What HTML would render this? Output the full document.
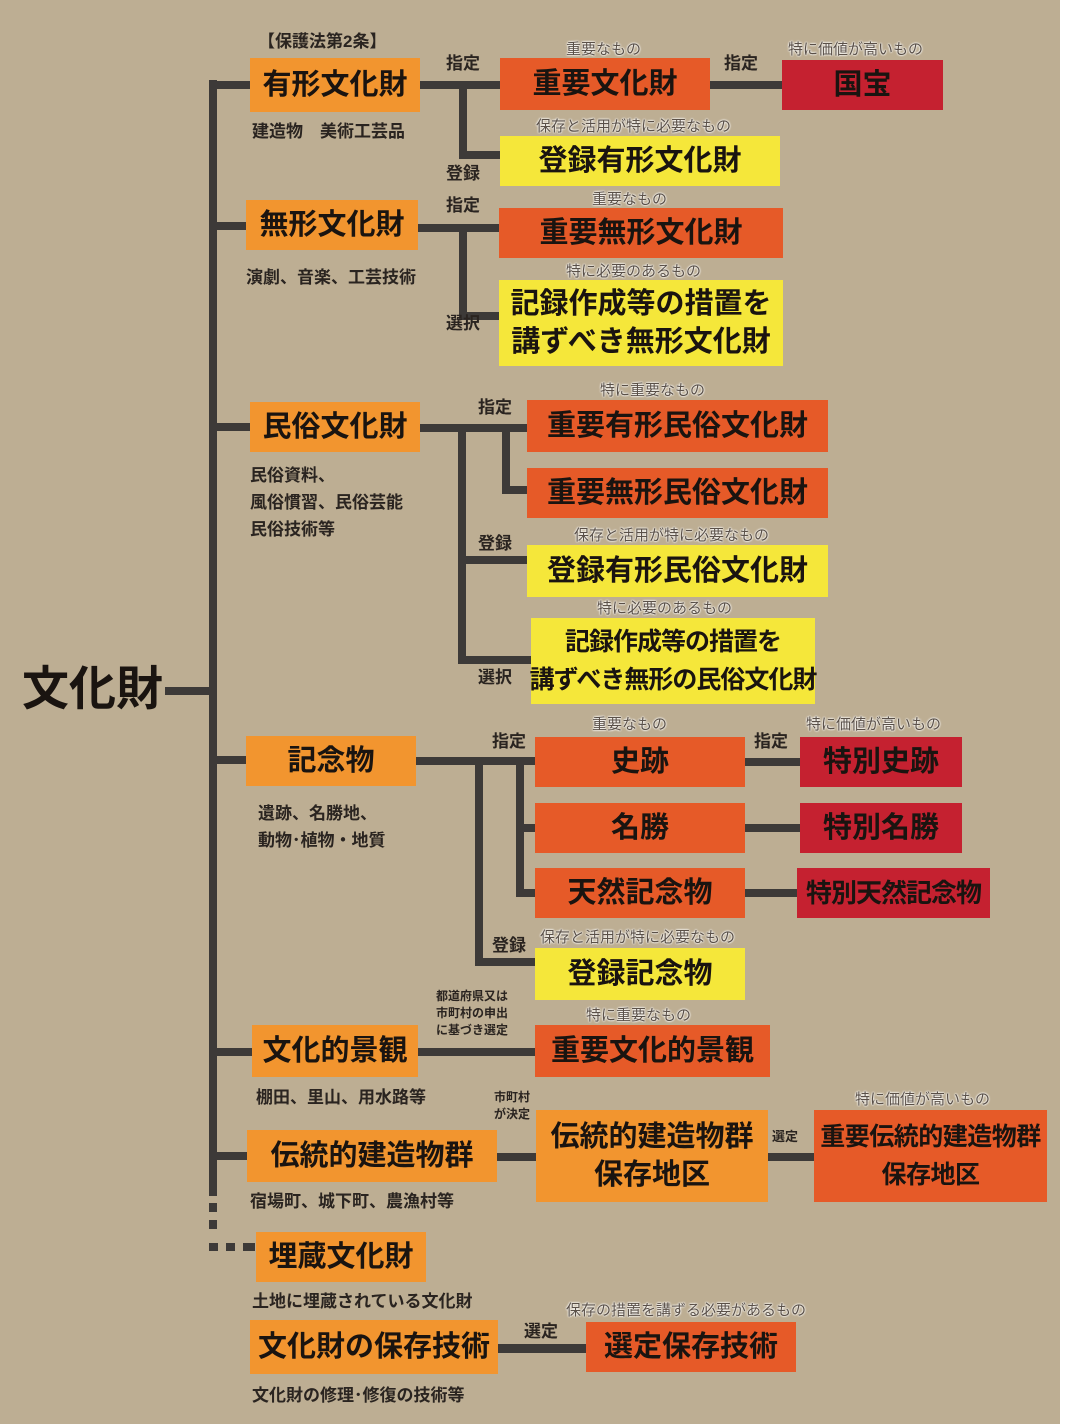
<!DOCTYPE html>
<html><head><meta charset="utf-8"><style>
body{margin:0;width:1066px;height:1424px;background:#fff;overflow:hidden}
#c{position:absolute;left:0;top:0;width:1060px;height:1424px;background:#bdae93;font-family:"Liberation Sans","Noto Sans CJK JP",sans-serif}
.b{position:absolute;display:flex;align-items:center;justify-content:center;text-align:center;font-weight:bold;color:#1a1410;font-size:29px;line-height:38px;white-space:nowrap}
.o{background:#f2952f}.r{background:#e65a28}.d{background:#c52130}.y{background:#f5e73a}
.l{position:absolute;background:#3d3a38}
.t{position:absolute;font-weight:bold;color:#2a2420;font-size:17px;white-space:nowrap;line-height:20px}
.a{position:absolute;color:#5a5048;font-size:15px;white-space:nowrap;text-shadow:0 0 2px #fff,0 0 2px #fff,0 0 1px #fff}
</style></head><body><div id="c">
<div class="t" style="left:22px;top:660px;font-size:47px;line-height:58px;color:#1a1410">文化財</div>
<div class="l" style="left:165px;top:687px;width:48px;height:8px"></div>
<div class="l" style="left:209px;top:80px;width:8px;height:1116px"></div>
<div class="l" style="left:209px;top:1203px;width:8px;height:9px"></div>
<div class="l" style="left:209px;top:1220px;width:8px;height:9px"></div>
<div class="l" style="left:209px;top:1243px;width:9px;height:8px"></div>
<div class="l" style="left:226px;top:1243px;width:9px;height:8px"></div>
<div class="l" style="left:243px;top:1243px;width:12px;height:8px"></div>
<div class="l" style="left:209px;top:81px;width:42px;height:8px"></div>
<div class="l" style="left:209px;top:222px;width:38px;height:8px"></div>
<div class="l" style="left:209px;top:423px;width:42px;height:8px"></div>
<div class="l" style="left:209px;top:756px;width:38px;height:8px"></div>
<div class="l" style="left:209px;top:1048px;width:44px;height:8px"></div>
<div class="l" style="left:209px;top:1152px;width:40px;height:8px"></div>

<div class="t" style="left:258px;top:32px">【保護法第2条】</div>
<div class="b o" style="left:250px;top:58px;width:170px;height:54px">有形文化財</div>
<div class="t" style="left:252px;top:122px">建造物　美術工芸品</div>
<div class="l" style="left:420px;top:81px;width:80px;height:8px"></div>
<div class="l" style="left:459px;top:81px;width:8px;height:78px"></div>
<div class="l" style="left:459px;top:151px;width:41px;height:8px"></div>
<div class="t" style="left:446px;top:54px">指定</div>
<div class="t" style="left:446px;top:164px">登録</div>
<div class="a" style="left:566px;top:38px">重要なもの</div>
<div class="b r" style="left:500px;top:58px;width:210px;height:52px">重要文化財</div>
<div class="l" style="left:710px;top:81px;width:72px;height:8px"></div>
<div class="t" style="left:724px;top:54px">指定</div>
<div class="a" style="left:788px;top:38px">特に価値が高いもの</div>
<div class="b d" style="left:782px;top:60px;width:161px;height:50px">国宝</div>
<div class="a" style="left:536px;top:115px">保存と活用が特に必要なもの</div>
<div class="b y" style="left:500px;top:136px;width:280px;height:50px">登録有形文化財</div>
<div class="b o" style="left:246px;top:200px;width:172px;height:50px">無形文化財</div>
<div class="t" style="left:246px;top:268px">演劇、音楽、工芸技術</div>
<div class="l" style="left:418px;top:224px;width:81px;height:8px"></div>
<div class="l" style="left:459px;top:224px;width:8px;height:96px"></div>
<div class="l" style="left:459px;top:312px;width:40px;height:8px"></div>
<div class="t" style="left:446px;top:196px">指定</div>
<div class="t" style="left:446px;top:314px">選択</div>
<div class="a" style="left:592px;top:188px">重要なもの</div>
<div class="b r" style="left:499px;top:208px;width:284px;height:50px">重要無形文化財</div>
<div class="a" style="left:566px;top:260px">特に必要のあるもの</div>
<div class="b y" style="left:499px;top:280px;width:284px;height:86px">記録作成等の措置を<br>講ずべき無形文化財</div>
<div class="b o" style="left:250px;top:402px;width:170px;height:50px">民俗文化財</div>
<div class="t" style="left:250px;top:462px;line-height:27px">民俗資料、<br>風俗慣習、民俗芸能<br>民俗技術等</div>
<div class="l" style="left:420px;top:424px;width:107px;height:8px"></div>
<div class="l" style="left:458px;top:424px;width:8px;height:240px"></div>
<div class="l" style="left:502px;top:424px;width:8px;height:70px"></div>
<div class="l" style="left:502px;top:486px;width:25px;height:8px"></div>
<div class="l" style="left:458px;top:556px;width:69px;height:8px"></div>
<div class="l" style="left:458px;top:656px;width:73px;height:8px"></div>
<div class="t" style="left:478px;top:398px">指定</div>
<div class="t" style="left:478px;top:534px">登録</div>
<div class="t" style="left:478px;top:668px">選択</div>
<div class="a" style="left:600px;top:379px">特に重要なもの</div>
<div class="b r" style="left:527px;top:400px;width:301px;height:52px">重要有形民俗文化財</div>
<div class="b r" style="left:527px;top:468px;width:301px;height:50px">重要無形民俗文化財</div>
<div class="a" style="left:574px;top:524px">保存と活用が特に必要なもの</div>
<div class="b y" style="left:527px;top:545px;width:301px;height:52px">登録有形民俗文化財</div>
<div class="a" style="left:597px;top:597px">特に必要のあるもの</div>
<div class="b y" style="left:531px;top:618px;width:284px;height:86px;font-size:25px;letter-spacing:-1px">記録作成等の措置を<br>講ずべき無形の民俗文化財</div>
<div class="b o" style="left:246px;top:736px;width:170px;height:50px">記念物</div>
<div class="t" style="left:258px;top:800px;line-height:27px">遺跡、名勝地、<br>動物･植物・地質</div>
<div class="l" style="left:416px;top:757px;width:119px;height:8px"></div>
<div class="l" style="left:475px;top:757px;width:8px;height:209px"></div>
<div class="l" style="left:516px;top:757px;width:8px;height:140px"></div>
<div class="l" style="left:516px;top:824px;width:19px;height:8px"></div>
<div class="l" style="left:516px;top:889px;width:19px;height:8px"></div>
<div class="l" style="left:475px;top:958px;width:60px;height:8px"></div>
<div class="t" style="left:492px;top:732px">指定</div>
<div class="t" style="left:492px;top:936px">登録</div>
<div class="a" style="left:592px;top:713px">重要なもの</div>
<div class="b r" style="left:535px;top:737px;width:210px;height:50px">史跡</div>
<div class="b r" style="left:535px;top:803px;width:210px;height:50px">名勝</div>
<div class="b r" style="left:535px;top:868px;width:210px;height:50px">天然記念物</div>
<div class="l" style="left:745px;top:758px;width:55px;height:8px"></div>
<div class="l" style="left:745px;top:824px;width:55px;height:8px"></div>
<div class="l" style="left:745px;top:889px;width:52px;height:8px"></div>
<div class="t" style="left:754px;top:732px">指定</div>
<div class="a" style="left:806px;top:713px">特に価値が高いもの</div>
<div class="b d" style="left:800px;top:737px;width:162px;height:50px">特別史跡</div>
<div class="b d" style="left:800px;top:803px;width:162px;height:50px">特別名勝</div>
<div class="b d" style="left:797px;top:868px;width:193px;height:50px;font-size:26px;letter-spacing:-1px">特別天然記念物</div>
<div class="a" style="left:540px;top:926px">保存と活用が特に必要なもの</div>
<div class="b y" style="left:535px;top:948px;width:210px;height:52px">登録記念物</div>
<div class="b o" style="left:252px;top:1025px;width:166px;height:52px">文化的景観</div>
<div class="t" style="left:256px;top:1088px">棚田、里山、用水路等</div>
<div class="l" style="left:418px;top:1048px;width:117px;height:8px"></div>
<div class="t" style="left:436px;top:988px;font-size:12px;line-height:17px">都道府県又は<br>市町村の申出<br>に基づき選定</div>
<div class="a" style="left:586px;top:1004px">特に重要なもの</div>
<div class="b r" style="left:535px;top:1025px;width:235px;height:52px">重要文化的景観</div>
<div class="b o" style="left:247px;top:1130px;width:250px;height:52px">伝統的建造物群</div>
<div class="t" style="left:250px;top:1192px">宿場町、城下町、農漁村等</div>
<div class="t" style="left:494px;top:1089px;font-size:12px;line-height:17px">市町村<br>が決定</div>
<div class="l" style="left:497px;top:1153px;width:39px;height:8px"></div>
<div class="b o" style="left:536px;top:1110px;width:232px;height:92px">伝統的建造物群<br>保存地区</div>
<div class="l" style="left:768px;top:1153px;width:46px;height:8px"></div>
<div class="t" style="left:772px;top:1127px;font-size:13px">選定</div>
<div class="a" style="left:855px;top:1088px">特に価値が高いもの</div>
<div class="b r" style="left:814px;top:1110px;width:233px;height:92px;font-size:25px;letter-spacing:-0.5px">重要伝統的建造物群<br>保存地区</div>
<div class="b o" style="left:256px;top:1232px;width:170px;height:50px">埋蔵文化財</div>
<div class="t" style="left:252px;top:1292px">土地に埋蔵されている文化財</div>
<div class="b o" style="left:250px;top:1320px;width:248px;height:54px">文化財の保存技術</div>
<div class="t" style="left:252px;top:1386px">文化財の修理･修復の技術等</div>
<div class="l" style="left:498px;top:1344px;width:88px;height:9px"></div>
<div class="t" style="left:524px;top:1322px">選定</div>
<div class="a" style="left:566px;top:1299px">保存の措置を講ずる必要があるもの</div>
<div class="b r" style="left:586px;top:1322px;width:210px;height:50px">選定保存技術</div>
</div></body></html>
